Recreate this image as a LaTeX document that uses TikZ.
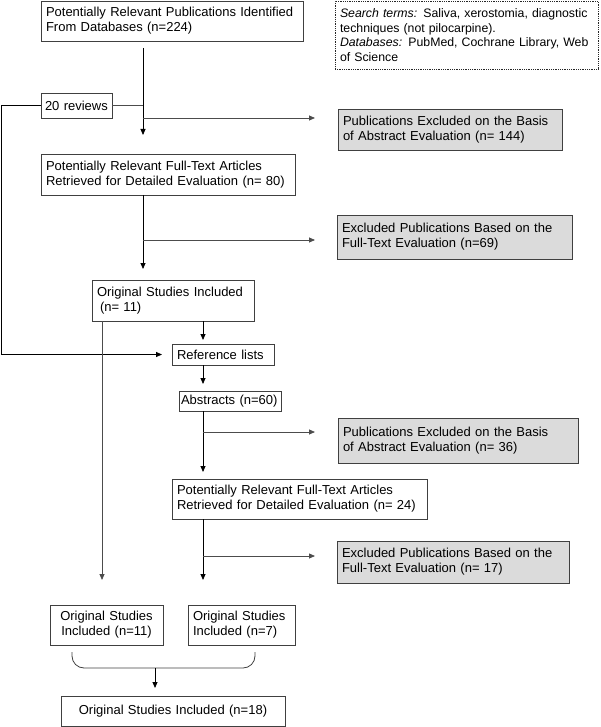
\documentclass[tikz,border=0pt]{standalone}
\usepackage{fontspec}
\setmainfont{Liberation Sans}
\usepackage{tikz}
\usetikzlibrary{positioning}
\usetikzlibrary{arrows.meta}

\begin{document}
\begin{tikzpicture}[>={Triangle[length=6pt,width=5pt]},
    font=\fontsize{13pt}{15pt}\selectfont,
    stage/.style={draw=black!75, line width=0.8pt, align=left, inner xsep=5pt, inner ysep=1pt, outer sep=0pt},
    excluded/.style={stage, fill=black!14},
    flow/.style={->, line width=0.8pt, draw=black},
    side/.style={line width=0.8pt, draw=black!70}]

    \useasboundingbox (0,0) rectangle (600pt,-727pt);

    % first search
    \node[stage, text width=252pt, minimum height=40pt, anchor=north west] (src) at (41pt,-1pt)
        {Potentially Relevant Publications Identified\\From Databases (n=224)};
    \node[stage, draw=black!85, densely dotted, font=\fontsize{12.3pt}{14.5pt}\selectfont,
          text width=253pt, minimum height=68pt, right=32pt of src.north east, anchor=north west] (terms)
        {\textit{Search terms:} Saliva, xerostomia, diagnostic\\techniques (not pilocarpine).\\
         \textit{Databases:} PubMed, Cochrane Library, Web\\of Science};
    \node[stage, inner xsep=4pt, text width=63pt, minimum height=25pt, below=52pt of src.south west, anchor=north west] (rev)
        {20 reviews};
    \node[excluded, text width=214pt, minimum height=41pt, below=40pt of terms.south west, xshift=3pt, anchor=north west] (excl1)
        {Publications Excluded on the Basis\\of Abstract Evaluation (n= 144)};
    \node[stage, text width=244pt, minimum height=41pt, below=36pt of rev.south west, anchor=north west] (full1)
        {Potentially Relevant Full-Text Articles\\Retrieved for Detailed Evaluation (n= 80)};
    \node[excluded, text width=225pt, minimum height=44pt, below=20pt of full1.south west, xshift=296pt, anchor=north west] (excl2)
        {Excluded Publications Based on the\\Full-Text Evaluation (n=69)};
    \node[stage, text width=152pt, minimum height=41pt, below=85pt of full1.south west, xshift=51pt, anchor=north west] (orig)
        {Original Studies Included\\\hspace*{3pt}(n= 11)};

    % reference lists
    \node[stage, text width=92pt, minimum height=21pt, below=23pt of orig.south west, xshift=80pt, anchor=north west] (refs)
        {Reference lists};
    \node[stage, inner xsep=2pt, text width=98pt, minimum height=20pt, below=26pt of refs.south west, xshift=7pt, anchor=north west] (abstr)
        {Abstracts (n=60)};
    \node[excluded, text width=230pt, minimum height=45pt, below=7pt of abstr.south west, xshift=159pt, anchor=north west] (excl3)
        {Publications Excluded on the Basis\\of Abstract Evaluation (n= 36)};
    \node[stage, text width=245pt, minimum height=40pt, below=68pt of abstr.south west, xshift=-7pt, anchor=north west] (full2)
        {Potentially Relevant Full-Text Articles\\Retrieved for Detailed Evaluation (n= 24)};
    \node[excluded, text width=222pt, minimum height=42pt, below=22pt of full2.south west, xshift=165pt, anchor=north west] (excl4)
        {Excluded Publications Based on the\\Full-Text Evaluation (n= 17)};

    % totals
    \node[stage, align=center, text width=103pt, minimum height=40pt, below=86pt of full2.south west, xshift=-122pt, anchor=north west] (incl1)
        {Original Studies\\Included (n=11)};
    \node[stage, text width=97pt, minimum height=40pt, right=25pt of incl1.north east, anchor=north west] (incl2)
        {Original Studies\\Included (n=7)};
    \node[stage, align=center, text width=214pt, minimum height=30pt, below=51pt of incl1.south west, xshift=11pt, anchor=north west] (total)
        {Original Studies Included (n=18)};

    \coordinate (top1) at ([xshift=102pt,yshift=-7pt]src.south west);
    \coordinate (b1) at ([yshift=-70pt]top1);
    \coordinate (top2) at ([xshift=102pt]full1.south west);
    \coordinate (b2) at ([yshift=-45pt]top2);
    \coordinate (top3) at ([xshift=111pt]orig.south west);
    \coordinate (top4) at ([xshift=10pt]orig.south west);
    \coordinate (top5) at ([xshift=31pt]refs.south west);
    \coordinate (top6) at ([xshift=24pt]abstr.south west);
    \coordinate (b3) at ([yshift=-21pt]top6);
    \coordinate (top7) at ([xshift=31pt]full2.south west);
    \coordinate (b4) at ([yshift=-37pt]top7);
    \coordinate (merge) at ([xshift=105pt,yshift=-23pt]incl1.south west);

    \draw[flow, shorten >=19pt] (top1) -- (top1 |- full1.north);
    \draw[side] (rev.east) -- (rev.east -| top1);
    \draw[flow, shorten >=10pt] (rev.west) -- ++(-40pt,0) |- (refs.west);
    \draw[flow, draw=black!70, shorten >=23pt] (b1) -- (b1 -| excl1.west);

    \draw[flow, shorten >=11pt] (top2) -- (top2 |- orig.north);
    \draw[flow, draw=black!70, shorten >=22pt] (b2) -- (b2 -| excl2.west);

    \draw[flow, shorten >=4pt] (top3) -- (top3 |- refs.north);
    \draw[flow, draw=black!70, shorten >=25pt] (top4) -- (top4 |- incl1.north);
    \draw[flow, shorten >=7pt] (top5) -- (top5 |- abstr.north);
    \draw[flow, shorten >=7pt] (top6) -- (top6 |- full2.north);
    \draw[flow, draw=black!70, shorten >=23pt] (b3) -- (b3 -| excl3.west);
    \draw[flow, shorten >=25pt] (top7) -- (top7 |- incl2.north);
    \draw[flow, draw=black!70, shorten >=22pt] (b4) -- (b4 -| excl4.west);

    \draw[side, draw=black!75, rounded corners=12pt] ([xshift=22pt,yshift=-7pt]incl1.south west)
        -- ([xshift=22pt,yshift=-23pt]incl1.south west) -- ([xshift=67pt,yshift=-23pt]incl2.south west)
        -- ([xshift=67pt,yshift=-7pt]incl2.south west);
    \draw[flow, shorten >=8pt] (merge) -- (merge |- total.north);
\end{tikzpicture}
\end{document}
